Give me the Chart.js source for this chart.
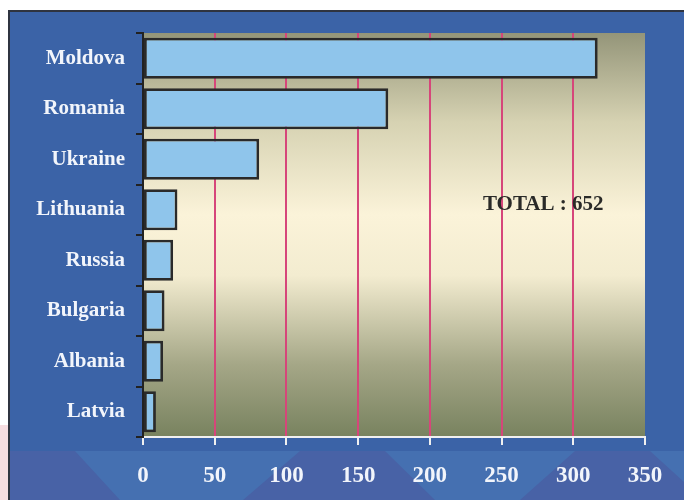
<!DOCTYPE html>
<html lang="en">

<head>
  <meta charset="UTF-8">
  <title>TOTAL : 652</title>
  <script src="https://cdn.jsdelivr.net/npm/chart.js"></script>
  <style>
    body {
      margin: 0;
      background: #ffffff;
    }

    canvas {
      display: block;
    }
  </style>
</head>

<body>
  <canvas id="countryChart" width="684" height="500"></canvas>

  <script>
    const countries = ['Moldova', 'Romania', 'Ukraine', 'Lithuania', 'Russia', 'Bulgaria', 'Albania', 'Latvia'];
    const counts = [317, 171, 81, 24, 21, 15, 14, 9];
    const axisMin = 0;
    const axisMax = 350;
    const axisStep = 50;

    const total = counts.reduce((a, b) => a + b, 0);
    const serif = '"Liberation Serif", "Times New Roman", serif';

    // slide background: blue panel, striped band at the bottom, shaded plot area
    const backdrop = {
      id: 'backdrop',
      beforeDraw(chart) {
        const c = chart.ctx;
        const area = chart.chartArea;
        c.save();
        c.fillStyle = '#ffffff';
        c.fillRect(0, 0, chart.width, chart.height);
        // faint pink edge at the lower left
        c.fillStyle = '#f6dde0';
        c.fillRect(0, 425, 9, chart.height - 425);

        c.fillStyle = '#3b63a7';
        c.fillRect(9, 11, chart.width - 9, chart.height - 11);

        // lighter band behind the value labels
        c.fillStyle = '#4570b1';
        c.fillRect(9, 451, chart.width - 9, chart.height - 451);
        c.fillStyle = '#4862a6';
        const stripes = [
          [[9, 451], [75, 451], [120, 500], [9, 500]],
          [[300, 451], [385, 451], [435, 500], [243, 500]],
          [[575, 451], [650, 451], [684, 482], [684, 500], [520, 500]]
        ];
        stripes.forEach(poly => {
          c.beginPath();
          poly.forEach(([x, y], i) => i ? c.lineTo(x, y) : c.moveTo(x, y));
          c.closePath();
          c.fill();
        });

        // panel edge
        c.strokeStyle = '#2f3440';
        c.lineWidth = 2;
        c.beginPath();
        c.moveTo(9, chart.height);
        c.lineTo(9, 11);
        c.lineTo(chart.width, 11);
        c.stroke();

        // plot area shading
        const g = c.createLinearGradient(0, area.top, 0, area.bottom);
        g.addColorStop(0, '#949579');
        g.addColorStop(0.22, '#d6d2b2');
        g.addColorStop(0.45, '#fbf3d9');
        g.addColorStop(0.6, '#f3ecd0');
        g.addColorStop(0.82, '#a5a787');
        g.addColorStop(1, '#78825f');
        c.fillStyle = g;
        c.fillRect(area.left, area.top, area.right - area.left, area.bottom - area.top);
        c.restore();
      },
      afterDraw(chart) {
        const c = chart.ctx;
        const x = chart.scales.x.getPixelForValue(237);
        const y = chart.scales.y.getPixelForValue(3) - 5;
        c.save();
        c.font = 'bold 21px ' + serif;
        c.fillStyle = '#2a2a28';
        c.textBaseline = 'middle';
        c.fillText('TOTAL : ' + total, x, y);
        c.restore();
      }
    };

    new Chart(document.getElementById('countryChart'), {
      type: 'bar',
      data: {
        labels: countries,
        datasets: [{
          data: counts,
          backgroundColor: '#8fc5eb',
          borderColor: '#2a2a2a',
          borderWidth: 2.8,
          borderSkipped: false,
          categoryPercentage: 0.81,
          barPercentage: 1
        }]
      },
      options: {
        indexAxis: 'y',
        responsive: false,
        animation: false,
        layout: { padding: { top: 33, right: 39, left: 0, bottom: 0 } },
        scales: {
          x: {
            min: axisMin,
            max: axisMax,
            ticks: {
              stepSize: axisStep,
              color: '#f2f5fb',
              font: { family: serif, size: 23, weight: 'bold' },
              padding: 17,
              maxRotation: 0
            },
            grid: {
              color: ctx => (ctx.tick && (ctx.tick.value === axisMin || ctx.tick.value === axisMax)) ? 'rgba(0,0,0,0)' : '#d6467a',
              lineWidth: 2,
              tickColor: '#f0f0f0',
              tickLength: 8
            },
            border: { color: '#f0f0f0', width: 2 },
            afterFit(scale) { scale.height = 63; }
          },
          y: {
            ticks: {
              color: '#f2f5fb',
              font: { family: serif, size: 21, weight: 'bold' },
              padding: 11
            },
            grid: {
              drawOnChartArea: false,
              tickColor: '#222222',
              tickLength: 7,
              lineWidth: 2
            },
            border: { color: '#222222', width: 2 },
            afterFit(scale) { scale.width = 143; }
          }
        },
        plugins: {
          legend: { display: false },
          tooltip: { enabled: false }
        }
      },
      plugins: [backdrop]
    });
  </script>
</body>

</html>
